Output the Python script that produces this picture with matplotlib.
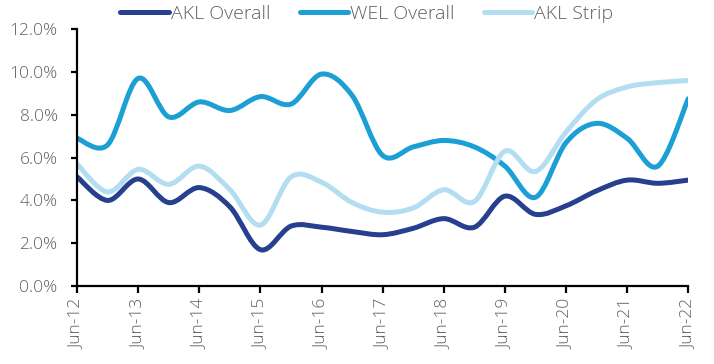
import numpy as np
import matplotlib
matplotlib.use("Agg")
import matplotlib.pyplot as plt
from matplotlib.path import Path
from matplotlib.patches import PathPatch
from matplotlib.lines import Line2D

plt.rcParams["font.family"] = ["Open Sans", "DejaVu Sans"]
plt.rcParams["font.weight"] = "light"

# half-yearly observations, Jun-12 .. Jun-22
periods = ["Jun-12", "Dec-12", "Jun-13", "Dec-13", "Jun-14", "Dec-14", "Jun-15",
           "Dec-15", "Jun-16", "Dec-16", "Jun-17", "Dec-17", "Jun-18", "Dec-18",
           "Jun-19", "Dec-19", "Jun-20", "Dec-20", "Jun-21", "Dec-21", "Jun-22"]
akl_overall = [5.1, 4.0, 5.0, 3.9, 4.6, 3.7, 1.7, 2.8, 2.75, 2.55, 2.4, 2.7,
               3.15, 2.75, 4.2, 3.35, 3.75, 4.45, 4.95, 4.8, 4.95]
wel_overall = [6.9, 6.6, 9.7, 7.9, 8.6, 8.2, 8.85, 8.5, 9.9, 8.9, 6.1, 6.5,
               6.8, 6.5, 5.6, 4.15, 6.7, 7.6, 6.9, 5.6, 8.75]
akl_strip = [5.7, 4.4, 5.45, 4.75, 5.6, 4.5, 2.85, 5.1, 4.85, 3.9, 3.45, 3.65,
             4.5, 3.95, 6.3, 5.35, 7.2, 8.7, 9.3, 9.5, 9.6]

series = [("AKL Overall", akl_overall, "#263f8f"),
          ("WEL Overall", wel_overall, "#1b9fd4"),
          ("AKL Strip", akl_strip, "#b3def1")]


def smooth_path(x, y):
    # catmull-rom through the points, as bezier segments
    x = np.asarray(x, float)
    y = np.asarray(y, float)
    px = np.concatenate([[x[0]], x, [x[-1]]])
    py = np.concatenate([[y[0]], y, [y[-1]]])
    verts = [(x[0], y[0])]
    codes = [Path.MOVETO]
    for i in range(1, len(px) - 2):
        c1 = (px[i] + (px[i + 1] - px[i - 1]) / 6, py[i] + (py[i + 1] - py[i - 1]) / 6)
        c2 = (px[i + 1] - (px[i + 2] - px[i]) / 6, py[i + 1] - (py[i + 2] - py[i]) / 6)
        verts += [c1, c2, (px[i + 1], py[i + 1])]
        codes += [Path.CURVE4] * 3
    return Path(verts, codes)


fig = plt.figure(figsize=(7.14, 3.64), dpi=100)
ax = fig.add_axes([0.108, 0.214, 0.856, 0.706])

xs = np.arange(len(periods))
for name, vals, col in series:
    ax.add_patch(PathPatch(smooth_path(xs, vals), fill=False, edgecolor=col,
                           lw=3.6, capstyle="round", joinstyle="round"))

ax.set_xlim(0, len(periods) - 1)
ax.set_ylim(0, 12)
ax.set_yticks(np.arange(0, 13, 2))
ax.set_yticklabels([f"{v:.1f}%" for v in np.arange(0, 13, 2)])
ax.set_xticks(xs[::2])
ax.set_xticklabels(periods[::2], rotation=90)
ax.tick_params(axis="y", length=4, width=1.6, pad=10, labelsize=12.5, labelcolor="#5f5f5f")
ax.tick_params(axis="x", length=5, width=1.6, pad=4, labelsize=12.5, labelcolor="#5f5f5f")
for s in ["top", "right"]:
    ax.spines[s].set_visible(False)
for s in ["left", "bottom"]:
    ax.spines[s].set_linewidth(1.6)
    ax.spines[s].set_color("black")

handles = [Line2D([], [], color=c, lw=3.6, solid_capstyle="round") for _, _, c in series]
fig.legend(handles, [n for n, _, _ in series], loc="center",
           bbox_to_anchor=(0.514, 0.962), ncol=3, frameon=False,
           fontsize=14, handlelength=2.5, handletextpad=0.1, columnspacing=1.5,
           labelcolor="#5f5f5f")

fig.savefig("out.png", dpi=100)
